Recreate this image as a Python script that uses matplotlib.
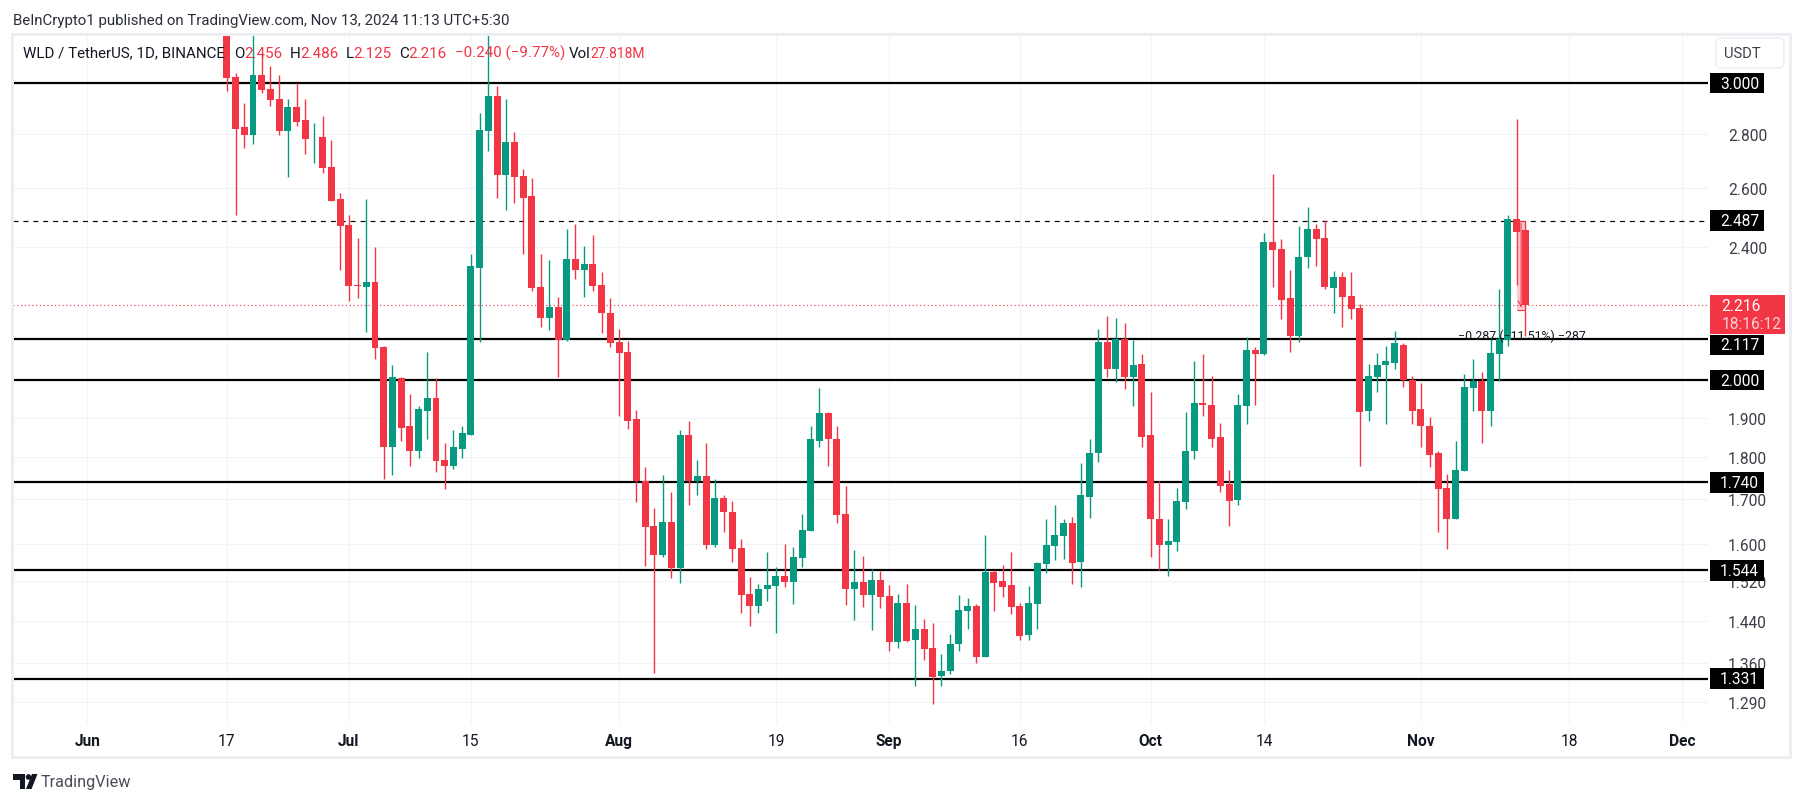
import matplotlib
matplotlib.use("Agg")
import matplotlib.pyplot as plt
import matplotlib.dates as mdates
import matplotlib.ticker as mticker
from matplotlib.patches import Rectangle, FancyBboxPatch, Polygon, Circle
from matplotlib.transforms import IdentityTransform
import pandas as pd

plt.rcParams['font.family'] = ['Roboto', 'DejaVu Sans']

first_day = '2024-06-17'
opens = [3.30,3.024,2.824,2.794,3.032,2.978,2.934,2.812,2.902,2.851,
2.782,2.786,2.674,2.560,2.471,2.279,2.273,2.286,2.092,1.825,
2.005,1.878,1.817,1.919,1.951,1.794,1.780,1.822,1.855,2.332,
2.812,2.946,2.645,2.767,2.642,2.573,2.270,2.176,2.209,2.112,
2.361,2.326,2.345,2.279,2.191,2.106,2.080,1.896,1.744,1.640,
1.576,1.649,1.548,1.857,1.742,1.756,1.598,1.702,1.672,1.591,
1.495,1.470,1.505,1.511,1.532,1.519,1.569,1.629,1.842,1.912,
1.847,1.667,1.505,1.519,1.492,1.523,1.490,1.400,1.476,1.404,
1.425,1.388,1.336,1.345,1.396,1.459,1.470,1.371,1.540,1.521,
1.513,1.470,1.413,1.474,1.557,1.596,1.618,1.647,1.561,1.706,
1.810,2.106,2.030,2.117,2.008,2.046,1.855,1.656,1.598,1.603,
1.695,1.815,1.938,1.933,1.850,1.737,1.699,1.930,2.083,2.072,
2.417,2.391,2.239,2.126,2.365,2.457,2.427,2.267,2.304,2.245,
2.206,1.917,2.008,2.041,2.049,2.100,2.002,1.922,1.880,1.810,
1.727,1.656,1.768,1.978,1.997,1.917,2.074,2.112,2.491,2.456]
highs = [3.35,3.040,2.918,3.25,3.127,3.073,3.032,2.934,2.999,2.934,
2.840,2.867,2.775,2.584,2.505,2.427,2.560,2.398,2.095,2.041,
2.008,1.962,1.930,2.080,2.005,1.835,1.870,1.878,2.375,2.879,
3.25,2.990,2.934,2.808,2.667,2.635,2.375,2.358,2.242,2.460,
2.477,2.401,2.437,2.317,2.239,2.146,2.109,1.920,1.777,1.681,
1.758,1.718,1.870,1.891,1.794,1.837,1.749,1.711,1.697,1.611,
1.530,1.515,1.583,1.550,1.600,1.594,1.667,1.880,1.978,1.914,
1.880,1.732,1.587,1.574,1.546,1.542,1.513,1.495,1.515,1.472,
1.443,1.437,1.377,1.415,1.492,1.486,1.474,1.620,1.544,1.555,
1.583,1.476,1.511,1.561,1.654,1.688,1.656,1.660,1.787,1.845,
2.146,2.182,2.176,2.164,2.112,2.072,1.967,1.744,1.654,1.727,
1.914,2.052,2.072,2.013,1.886,1.770,1.962,2.123,2.092,2.444,
2.649,2.424,2.326,2.467,2.532,2.477,2.488,2.323,2.317,2.317,
2.218,2.046,2.077,2.097,2.140,2.103,2.013,1.992,1.901,1.817,
1.760,1.842,2.016,2.060,2.022,2.123,2.264,2.505,2.855,2.486]
lows = [2.968,2.506,2.745,2.760,2.958,2.906,2.797,2.638,2.828,2.722,
2.692,2.653,2.553,2.326,2.230,2.239,2.137,2.060,1.749,1.758,
1.840,1.780,1.799,1.845,1.765,1.725,1.773,1.799,1.855,2.106,
2.734,2.566,2.522,2.546,2.375,2.258,2.152,2.143,2.008,2.109,
2.295,2.242,2.258,2.132,2.092,1.905,1.872,1.695,1.552,1.342,
1.571,1.528,1.517,1.688,1.709,1.589,1.594,1.627,1.561,1.456,
1.431,1.456,1.480,1.417,1.509,1.474,1.550,1.629,1.825,1.780,
1.647,1.472,1.441,1.468,1.423,1.466,1.383,1.388,1.400,1.318,
1.365,1.285,1.318,1.340,1.383,1.425,1.360,1.371,1.459,1.488,
1.454,1.404,1.404,1.425,1.538,1.565,1.567,1.515,1.509,1.658,
1.790,2.008,1.994,1.975,1.930,1.827,1.571,1.544,1.532,1.585,
1.677,1.797,1.904,1.827,1.718,1.640,1.686,1.883,1.933,2.069,
2.273,2.173,2.080,2.106,2.332,2.336,2.264,2.191,2.152,2.173,
1.780,1.893,1.967,1.883,2.032,1.983,1.883,1.827,1.777,1.627,
1.589,1.656,1.768,1.919,1.837,1.880,1.997,2.095,2.279,2.125]
closes = [3.020,2.820,2.794,3.032,2.974,2.930,2.812,2.902,2.847,2.778,
2.785,2.671,2.556,2.467,2.276,2.276,2.286,2.089,1.825,2.008,
1.875,1.817,1.922,1.951,1.792,1.780,1.825,1.860,2.336,2.816,
2.946,2.645,2.767,2.638,2.566,2.267,2.176,2.209,2.112,2.361,
2.326,2.345,2.276,2.191,2.103,2.077,1.893,1.742,1.638,1.576,
1.649,1.548,1.857,1.742,1.756,1.598,1.702,1.670,1.589,1.492,
1.470,1.505,1.513,1.532,1.519,1.571,1.631,1.845,1.912,1.845,
1.665,1.505,1.519,1.492,1.523,1.488,1.400,1.476,1.402,1.425,
1.386,1.334,1.345,1.396,1.461,1.470,1.371,1.540,1.517,1.509,
1.468,1.411,1.476,1.559,1.598,1.620,1.645,1.559,1.709,1.812,
2.106,2.030,2.115,2.008,2.043,1.852,1.654,1.598,1.605,1.697,
1.817,1.938,1.933,1.847,1.732,1.697,1.933,2.083,2.072,2.414,
2.388,2.233,2.126,2.368,2.457,2.424,2.270,2.304,2.242,2.203,
1.914,2.011,2.041,2.052,2.103,2.000,1.919,1.878,1.807,1.725,
1.654,1.770,1.983,1.997,1.917,2.077,2.117,2.491,2.450,2.216]

solid_levels = [3.000, 2.117, 2.000, 1.740, 1.544, 1.331]
dashed_level = 2.487
last_price = 2.216
countdown = '18:16:12'
price_ticks = [2.8, 2.6, 2.4, 1.9, 1.8, 1.7, 1.6, 1.52, 1.44, 1.36, 1.29]
date_ticks = ['2024-06-01','2024-06-17','2024-07-01','2024-07-15','2024-08-01','2024-08-19',
              '2024-09-01','2024-09-16','2024-10-01','2024-10-14','2024-11-01','2024-11-18','2024-12-01']
date_labels = ['Jun','17','Jul','15','Aug','19','Sep','16','Oct','14','Nov','18','Dec']
month_labels = {'Jun','Jul','Aug','Sep','Oct','Nov','Dec'}
measure_from, measure_to = 2.487, 2.200
measure_text = '\u22120.287 (\u221211.51%) \u2212287'
measure_days = ['2024-11-12', '2024-11-13']

RED, GREEN, INK = '#F23645', '#089981', '#131722'
W, H = 1804, 803
fig = plt.figure(figsize=(W/100, H/100), dpi=100, facecolor='white')

def frac(x0, y0, x1, y1):
    return [x0/W, 1-y1/H, (x1-x0)/W, (y1-y0)/H]

ax = fig.add_axes(frac(13, 35.5, 1708, 723.5))
ax.set_yscale('log')
jun1 = mdates.date2num(pd.Timestamp('2024-06-01'))
ax.set_xlim(jun1-8.537, jun1+185.95)
ax.set_ylim(1.2537, 3.206)
for s in ax.spines.values():
    s.set_visible(False)

days = mdates.date2num(pd.date_range(first_day, periods=len(opens), freq='D'))
ups = [c >= o for o, c in zip(opens, closes)]
colors = [GREEN if u else RED for u in ups]
ax.vlines(days, lows, highs, colors=colors, linewidth=1.0, zorder=4)
ax.bar(days, [max(abs(c-o), 0.003) for o, c in zip(opens, closes)],
       bottom=[min(o, c) for o, c in zip(opens, closes)],
       width=0.8, color=colors, linewidth=0, zorder=5)

ax.hlines(solid_levels, jun1-8.537, jun1+185.95, colors='black', linewidth=1.6, zorder=3)
ax.axhline(dashed_level, color='black', linewidth=0.85, linestyle=(0, (4.2, 4.2)), zorder=3)
ax.axhline(last_price, color=RED, linewidth=0.8, linestyle=(0, (1, 2.4)), zorder=3)

# measure overlay
m0, m1 = mdates.date2num(pd.Timestamp(measure_days[0])), mdates.date2num(pd.Timestamp(measure_days[1]))
ax.add_patch(Rectangle((m0, measure_to), m1-m0, measure_from-measure_to,
                       facecolor=RED, alpha=0.25, linewidth=0, zorder=6))
ax.hlines([measure_from, measure_to], m0, m1, colors=RED, linewidth=0.8, zorder=6)
ax.annotate('', xy=((m0+m1)/2, measure_to), xytext=((m0+m1)/2, measure_from),
            arrowprops=dict(arrowstyle='->', color=RED, lw=0.8), zorder=6)
ax.text((m0+m1)/2+0.1, 2.128, measure_text, ha='center', va='center', fontsize=8.9, color=INK, zorder=7)

# ticks and grid
ax.yaxis.set_major_locator(mticker.FixedLocator(price_ticks))
ax.yaxis.set_major_formatter(mticker.FixedFormatter([f'{p:.3f}' for p in price_ticks]))
ax.yaxis.set_minor_locator(mticker.NullLocator())
ax.yaxis.tick_right()
ax.xaxis.set_major_locator(mticker.FixedLocator(mdates.date2num(pd.to_datetime(date_ticks))))
ax.xaxis.set_major_formatter(mticker.FixedFormatter(date_labels))
ax.xaxis.set_minor_locator(mticker.NullLocator())
ax.tick_params(axis='y', length=0, pad=14.5, labelsize=11.2, labelcolor='#3a3e47')
ax.tick_params(axis='x', length=0, pad=7.5, labelsize=11.2, labelcolor=INK)
ax.grid(True, color='#f0f3fa', linewidth=0.8, zorder=0)
ax.set_axisbelow(True)
fig.canvas.draw()
for lab in ax.get_xticklabels():
    if lab.get_text() in month_labels:
        lab.set_fontweight('bold')

# pane frame
ID = IdentityTransform()
def py(y):
    return H - y
fig.add_artist(Rectangle((12, py(758)), 1778, 723, fill=False, edgecolor='#eceef1', linewidth=2.2,
                         transform=ID, zorder=1))

def pixel_y(price):
    return ax.transData.transform((days[0], price))[1]

# price labels
offsets = {3.000: 0, 2.117: -6.3, 2.000: 0, 1.740: 0, 1.544: -0.5, 1.331: 0}
for level in solid_levels + [dashed_level]:
    yc = pixel_y(level) + offsets.get(level, 0)
    fig.add_artist(Rectangle((1710, yc-10.2), 54, 20.4, facecolor='black', linewidth=0, transform=ID, zorder=8))
    fig.text(1739.5/W, yc/H, f'{level:.3f}', color='white', fontsize=11.2, ha='center', va='center', zorder=9)

yc = pixel_y(last_price)
fig.add_artist(Rectangle((1710, py(335)), 75, 39, facecolor=RED, linewidth=0, transform=ID, zorder=8))
fig.text(1721/W, py(306.5)/H, f'{last_price:.3f}', color='white', fontsize=11.2, ha='left', va='center', zorder=9)
fig.text(1722/W, py(325)/H, countdown, color='#fbd0d4', fontsize=11.2, ha='left', va='center', zorder=9)

# USDT button
fig.add_artist(FancyBboxPatch((1716, py(69)), 68, 30, boxstyle='round,pad=0,rounding_size=5',
                              facecolor='white', edgecolor='#eef0f3', linewidth=1.2, transform=ID, zorder=8))
fig.text(1742/W, py(54)/H, 'USDT', color='#3a3e47', fontsize=10.6, ha='center', va='center', zorder=9)

# header
fig.text(13/W, py(20.5)/H, 'BeInCrypto1 published on TradingView.com, Nov 13, 2024 11:13 UTC+5:30',
         color='#2a2e39', fontsize=10.8, ha='left', va='center')

# legend row
legend_parts = [(23, 'WLD / TetherUS, 1D, BINANCE', INK, 10.9), (234, 'O', INK, 10.9), (244, '2.456', RED, 10.9),
                (290, 'H', INK, 10.9), (300, '2.486', RED, 10.9), (346, 'L', INK, 10.9), (353, '2.125', RED, 10.9),
                (399, 'C', INK, 10.9), (408, '2.216', RED, 10.9), (455, '\u22120.240 (\u22129.77%)', RED, 10.9),
                (569, 'Vol', INK, 10.9), (590, '27.818M', RED, 10.0)]
for x, s, c, fs in legend_parts:
    fig.text(x/W, py(53.5)/H, s, color=c, fontsize=fs, ha='left', va='center', zorder=9)

# TradingView footer
logo = '#131722'
fig.add_artist(Rectangle((13, py(781)), 12, 6, facecolor=logo, linewidth=0, transform=ID))
fig.add_artist(Rectangle((19.5, py(790)), 5.5, 10, facecolor=logo, linewidth=0, transform=ID))
fig.add_artist(Circle((28.5, py(778)), 2.8, facecolor=logo, linewidth=0, transform=ID))
fig.add_artist(Polygon([(32, py(775)), (37.5, py(775)), (31.5, py(790)), (26, py(790))],
                       closed=True, facecolor=logo, linewidth=0, transform=ID))
fig.text(41/W, py(782.5)/H, 'TradingView', color='#4a4e57', fontsize=11.7, ha='left', va='center')

fig.savefig('out.png', dpi=100, facecolor='white')
